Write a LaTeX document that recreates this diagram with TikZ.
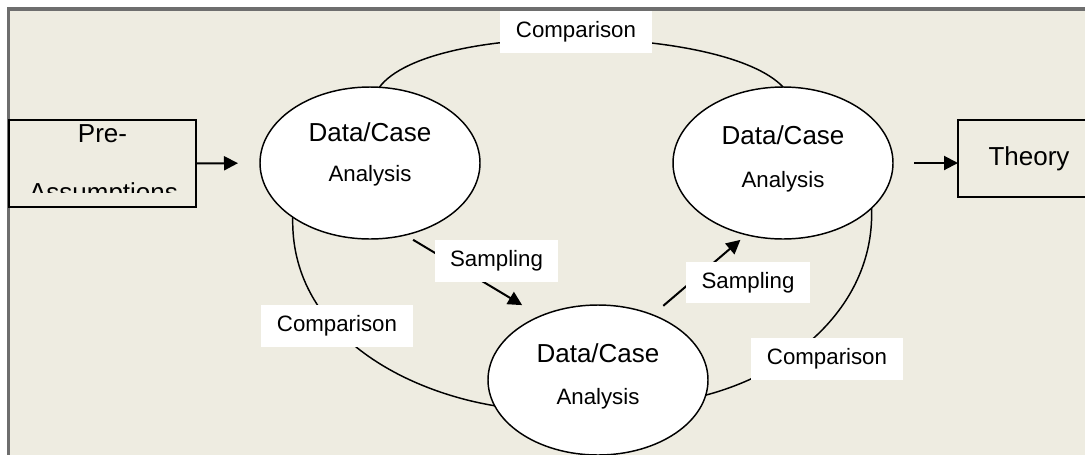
\documentclass[tikz,border=0pt]{standalone}
\usepackage{fontspec}
\setmainfont{Liberation Sans}
\usetikzlibrary{arrows.meta,shapes.geometric}
\definecolor{tanbg}{HTML}{EEECE1}
\definecolor{framegray}{HTML}{6E6E6E}
\newcommand{\bigtxt}{\fontsize{19.5}{23}\selectfont}
\newcommand{\smalltxt}{\fontsize{16.7}{20}\selectfont}
\newcommand{\dacase}[2]{%
  \makebox[0pt]{\raisebox{#1}[0pt][0pt]{\bigtxt Data/Case}}%
  \makebox[0pt]{\raisebox{-#2}[0pt][0pt]{\smalltxt Analysis}}}

\begin{document}
\begin{tikzpicture}[
  x=0.75pt,y=-0.75pt,
  ell/.style={ellipse,draw,fill=white,line width=1.1pt,inner sep=0pt,outer sep=0pt,
              minimum width=165pt,minimum height=114pt},
  sqbox/.style={draw,fill=tanbg,line width=1.5pt,inner sep=0pt,outer sep=0pt,font=\bigtxt},
  lbl/.style={fill=white,inner sep=0pt,font=\smalltxt},
  cmpbox/.style={lbl,minimum width=114pt,minimum height=31.5pt},
  smpbox/.style={lbl,minimum width=92.5pt,minimum height=31pt},
  arr/.style={-{Triangle[length=10.5pt,width=10.5pt]},line width=1.5pt},
  loopline/.style={line width=1.1pt}
]
\clip (0,0) rectangle (1085,454);
\fill[tanbg] (8.5,9) rectangle (1100,470);
\draw[framegray,line width=2.4pt] (8.5,470) -- (8.5,9) -- (1100,9);

% the three analysis steps
\node[ell] (e1) at (370,163) {\dacase{16pt}{13.5pt}};
\node[ell] (e2) at (783,163) {\dacase{14pt}{18.7pt}};
\node[ell,minimum height=112.5pt] (e3) at (598,380) {\dacase{13.3pt}{18.7pt}};

\node[sqbox,minimum width=140.25pt,minimum height=65.25pt] (pre) at (102.5,163.5)
  {\raisebox{15.9pt}[0pt][0pt]{Pre-}};
\begin{scope}
  \clip (9,120) rectangle (196,192);
  \node[font=\bigtxt,anchor=base] (preb) at (103.5,201) {Assumptions};
\end{scope}
\node[sqbox,minimum width=106.5pt,minimum height=57.75pt] (theory) at (1029,158.5) {Theory};

% comparison loop
\draw[loopline] (e1.83) .. controls (430,20) and (725,25) .. (e2.90);
\draw[loopline] (e1.-145) .. controls (290,330) and (400,390) .. (e3.-166.5);
\draw[loopline] (e2.-27) .. controls (875,300) and (800,370) .. (e3.-8);

\draw[arr,shorten >=16.5pt] (pre.east) -- (e1.west);
\draw[arr,shorten <=15.75pt] (e2.east) -- (e2.east -| theory.west);
\draw[arr,shorten <=7pt,shorten >=16pt] (e1.-64) -- (e3.132);
\draw[arr,shorten <=10.5pt,shorten >=6pt] (e3.50) -- (e2.-117);

\node[smpbox] (samp1) at (496.5,261) {Sampling};
\node[smpbox] (samp2) at (748,282.5) {Sampling};
\node[cmpbox] (cmp1) at (576,32) {Comparison};
\node[cmpbox] (cmp2) at (337,326) {Comparison};
\node[cmpbox] (cmp3) at (827,358.5) {Comparison};
\end{tikzpicture}
\end{document}
